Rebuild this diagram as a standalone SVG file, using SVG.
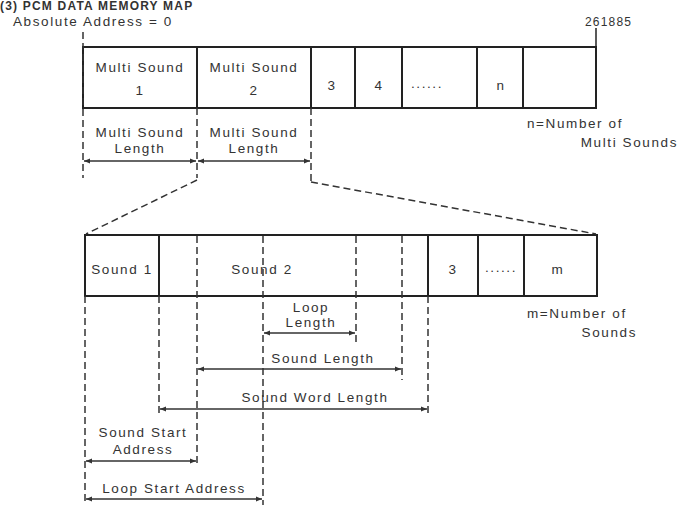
<svg xmlns="http://www.w3.org/2000/svg" width="678" height="505" viewBox="0 0 678 505">
<defs>
<style>
text{font-family:"Liberation Sans",Arial,sans-serif;font-size:13.5px;fill:#333;letter-spacing:1.6px}
.c{text-anchor:middle}
.r{text-anchor:end}
.box{fill:none;stroke:#222;stroke-width:2}
.sol{stroke:#222;stroke-width:2}
.dash{stroke:#333;stroke-width:1.5;stroke-dasharray:7 4;fill:none}
.arr{stroke:#333;stroke-width:1.4;marker-start:url(#ah);marker-end:url(#ah)}
</style>
<marker id="ah" viewBox="0 0 10 10" refX="10" refY="5" markerWidth="8" markerHeight="6" orient="auto-start-reverse" markerUnits="userSpaceOnUse">
<path d="M0,1 L10,5 L0,9 Z" fill="#333"/>
</marker>
</defs>
<rect width="678" height="505" fill="#fff"/>

<text x="0" y="10" style="font-weight:bold;font-size:12px;letter-spacing:1.2px">(3) PCM DATA MEMORY MAP</text>
<text x="13" y="26">Absolute Address = 0</text>
<text x="585" y="26" style="font-size:12px;letter-spacing:1.2px">261885</text>

<g id="multi-map">
<rect class="box" x="83" y="47" width="513" height="61"/>
<line class="sol" x1="197" y1="47" x2="197" y2="108"/>
<line class="sol" x1="311" y1="47" x2="311" y2="108"/>
<line class="sol" x1="355" y1="47" x2="355" y2="108"/>
<line class="sol" x1="402" y1="47" x2="402" y2="108"/>
<line class="sol" x1="477" y1="47" x2="477" y2="108"/>
<line class="sol" x1="523" y1="47" x2="523" y2="108"/>
<line class="sol" x1="596" y1="28" x2="596" y2="47" style="stroke-width:1.5"/>
</g>
<g id="ms1"><text class="c" x="140" y="72">Multi Sound</text><text class="c" x="140" y="95">1</text></g>
<g id="ms2"><text class="c" x="254" y="72">Multi Sound</text><text class="c" x="254" y="95">2</text></g>
<g id="ms3"><text class="c" x="332" y="90">3</text></g>
<g id="ms4"><text class="c" x="379" y="90">4</text></g>
<g id="msdots"><text class="c" x="427" y="88">......</text></g>
<g id="msn"><text class="c" x="501" y="90">n</text></g>
<g id="nnote"><text x="527" y="128">n=Number of</text><text class="r" x="678" y="147">Multi Sounds</text></g>

<g id="sound-map">
<rect class="box" x="85" y="235" width="512" height="61"/>
<line class="sol" x1="159" y1="235" x2="159" y2="296"/>
<line class="sol" x1="428" y1="235" x2="428" y2="296"/>
<line class="sol" x1="478" y1="235" x2="478" y2="296"/>
<line class="sol" x1="524" y1="235" x2="524" y2="296"/>
</g>
<g id="s1"><text class="c" x="122" y="274">Sound 1</text></g>
<g id="s2"><text class="c" x="262" y="274">Sound 2</text></g>
<g id="s3"><text class="c" x="453" y="274">3</text></g>
<g id="sdots"><text class="c" x="501" y="272">......</text></g>
<g id="sm"><text class="c" x="558" y="274">m</text></g>
<g id="mnote"><text x="527" y="318">m=Number of</text><text class="r" x="637" y="337">Sounds</text></g>

<g id="connectors">
<line class="dash" x1="83" y1="32" x2="83" y2="178"/>
<line class="dash" x1="197" y1="108" x2="197" y2="178"/>
<line class="dash" x1="311" y1="108" x2="311" y2="182"/>
<line class="dash" x1="197" y1="180" x2="86" y2="234"/>
<line class="dash" x1="311" y1="182" x2="596" y2="234"/>

<line class="dash" x1="197" y1="236" x2="197" y2="465"/>
<line class="dash" x1="263" y1="236" x2="263" y2="505"/>
<line class="dash" x1="356" y1="236" x2="356" y2="345"/>
<line class="dash" x1="402" y1="236" x2="402" y2="380"/>
<line class="dash" x1="85" y1="296" x2="85" y2="505"/>
<line class="dash" x1="159" y1="296" x2="159" y2="414"/>
<line class="dash" x1="428" y1="296" x2="428" y2="415"/>

<line class="arr" x1="84" y1="161" x2="196" y2="161"/>
<line class="arr" x1="198" y1="161" x2="310" y2="161"/>
<line class="arr" x1="264" y1="333" x2="355" y2="333"/>
<line class="arr" x1="198" y1="369" x2="401" y2="369"/>
<line class="arr" x1="160" y1="409" x2="427" y2="409"/>
<line class="arr" x1="86" y1="461" x2="196" y2="461"/>
<line class="arr" x1="86" y1="499" x2="262" y2="499"/>
</g>

<g id="labels">
<text class="c" x="140" y="137">Multi Sound</text><text class="c" x="140" y="153">Length</text>
<text class="c" x="254" y="137">Multi Sound</text><text class="c" x="254" y="153">Length</text>
<text class="c" x="311" y="312">Loop</text><text class="c" x="311" y="327">Length</text>
<text class="c" x="323" y="363">Sound Length</text>
<text class="c" x="315" y="402">Sound Word Length</text>
<text class="c" x="143" y="437">Sound Start</text><text class="c" x="143" y="454">Address</text>
<text class="c" x="174" y="493">Loop Start Address</text>
</g>
</svg>
